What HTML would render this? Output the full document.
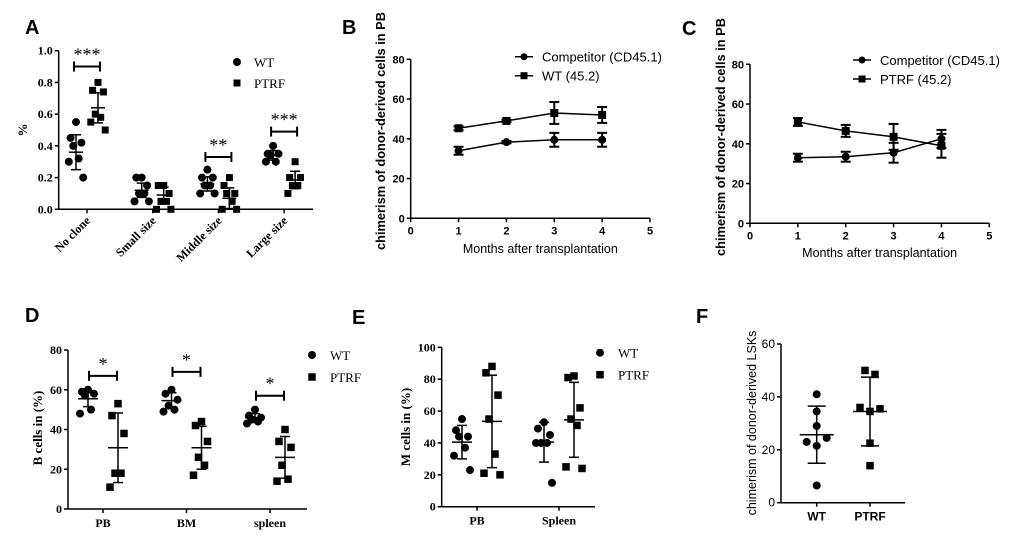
<!DOCTYPE html>
<html><head><meta charset="utf-8">
<style>
html,body{margin:0;padding:0;background:#fff;}
svg{display:block;}
.sans{font-family:"Liberation Sans",Arial,sans-serif;}
.serif{font-family:"Liberation Serif","Times New Roman",serif;}
</style></head>
<body>
<svg id="fig" width="1020" height="544" viewBox="0 0 1020 544" xmlns="http://www.w3.org/2000/svg">
<rect width="1020" height="544" fill="#fff"/>
<g class="sans" font-weight="bold" font-size="20" fill="#000">
<text x="25" y="34">A</text>
<text x="342" y="34">B</text>
<text x="682" y="35">C</text>
<text x="25" y="322">D</text>
<text x="352" y="324">E</text>
<text x="696" y="323">F</text>
</g>
</svg>
<script>
// ---------- Panel A data ----------
const aCategories = ["No clone","Small size","Middle size","Large size"];
const aYTicks = [0.0,0.2,0.4,0.6,0.8,1.0];
const aWT = [[0.55,0.45,0.42,0.40,0.32,0.30,0.20],[0.20,0.20,0.15,0.10,0.10,0.05,0.05],[0.25,0.20,0.20,0.15,0.15,0.10,0.10],[0.40,0.35,0.35,0.34,0.30,0.30]];
const aPTRF = [[0.80,0.75,0.74,0.60,0.58,0.55,0.50],[0.15,0.15,0.10,0.05,0.05,0.00,0.00],[0.20,0.15,0.10,0.10,0.05,0.00,0.00],[0.30,0.20,0.20,0.15,0.15,0.10]];
const aWTMean = [0.36,0.12,0.16,0.34];
const aWTSd = [0.11,0.045,0.045,0.03];
const aPTRFMean = [0.64,0.09,0.07,0.185];
const aPTRFSd = [0.095,0.05,0.065,0.055];
const aSigLevel = [0.90,null,0.33,0.49];
const aSigText = ["***",null,"**","***"];
// ---------- Panel B data ----------
const bMonths = [1,2,3,4];
const bXTicks = [0,1,2,3,4,5];
const bYTicks = [0,20,40,60,80];
const bComp = [34,38.3,39.5,39.5];
const bCompErr = [2,0.6,3.5,3.5];
const bWT = [45.3,49,53,52];
const bWTErr = [1,0.6,5.5,4];
// ---------- Panel C data ----------
const cMonths = [1,2,3,4];
const cComp = [33,33.5,35.5,42.5];
const cCompErr = [2,2.5,5,4.5];
const cPTRF = [51,46.5,43.5,39];
const cPTRFErr = [2,3,6.5,6];
// ---------- Panel D data ----------
const dCategories = ["PB","BM","spleen"];
const dYTicks = [0,20,40,60,80];
const dWT = [[60,59,58,57,50,48],[60,58,55,52,50,49],[50,47,46,45,44,43]];
const dPTRF = [[53,47,38,18,18,11],[44,42,34,26,22,17],[40,34,31,22,15,14]];
const dWTMean = [55.5,54.5,46];
const dWTSd = [4,4,2];
const dPTRFMean = [30.8,30.8,26];
const dPTRFSd = [17.5,10.8,10.5];
const dSigLevel = [67,69,57];
const dSigText = ["*","*","*"];
// ---------- Panel E data ----------
const eCategories = ["PB","Spleen"];
const eYTicks = [0,20,40,60,80,100];
const eWT = [[55,48,44,44,37,32,23],[53,49,45,40,40,40,15]];
const ePTRF = [[88,84,70,55,33,21,20],[82,81,62,55,51,25,24]];
const eWTMean = [40.5,40.5];
const eWTSd = [10.5,12.5];
const ePTRFMean = [53.5,54.5];
const ePTRFSd = [29,23.5];
// ---------- Panel F data ----------
const fCategories = ["WT","PTRF"];
const fYTicks = [0,20,40,60];
const fWT = [41,34.5,29,24.5,23,21.5,6.5];
const fPTRF = [50,48.5,36,35.5,34.5,22.5,14];
const fWTMean = 25.7, fWTSd = 10.8;
const fPTRFMean = 34.5, fPTRFSd = 13;

const svg = document.getElementById('fig');
const NS = 'http://www.w3.org/2000/svg';
function mk(tag, attrs, parent){
  const e = document.createElementNS(NS, tag);
  for (const k in attrs) e.setAttribute(k, attrs[k]);
  (parent||svg).appendChild(e);
  return e;
}
function lin(d0,d1,r0,r1){ return v => r0 + (v-d0)*(r1-r0)/(d1-d0); }
function line(x1,y1,x2,y2,w,p){ return mk('line',{x1,y1,x2,y2,stroke:'#000','stroke-width':w||1.5},p); }
function circ(x,y,r,p){ return mk('circle',{cx:x,cy:y,r:r,fill:'#000'},p); }
function sq(x,y,s,p){ return mk('rect',{x:x-s/2,y:y-s/2,width:s,height:s,fill:'#000'},p); }
function txt(x,y,s,attrs,p){ const t = mk('text',Object.assign({x,y},attrs),p); t.textContent = s; return t; }
const jit = [0,-6,6,-3,3,-8,8];

function yAxis(g, x, ys, ticks, fmt, font, size, weight){
  line(x, ys(ticks[0]), x, ys(ticks[ticks.length-1]), 1.5, g);
  ticks.forEach(t=>{
    line(x-4, ys(t), x, ys(t), 1.5, g);
    const l = txt(x-6, ys(t)+4, fmt(t), {'text-anchor':'end','font-size':size,'font-weight':weight,'font-family':font}, g);
    
    
  });
}
function errBar(g, x, ys, mean, sd, half, cap){
  line(x-half, ys(mean), x+half, ys(mean), 1.5, g);
  line(x, ys(mean-sd), x, ys(mean+sd), 1.5, g);
  line(x-cap, ys(mean-sd), x+cap, ys(mean-sd), 1.5, g);
  line(x-cap, ys(mean+sd), x+cap, ys(mean+sd), 1.5, g);
}
function bracket(g, x1, x2, y, ys, text, fs, font){
  line(x1, y, x2, y, 2, g);
  line(x1, y-5, x1, y+5, 2, g);
  line(x2, y-5, x2, y+5, 2, g);
  const t = txt((x1+x2)/2, y-6, text, {'text-anchor':'middle','font-size':fs,'font-family':font}, g);
  
  
}
const SERIF = '"Liberation Serif",serif', SANS='"Liberation Sans",sans-serif';

// ================= Panel A =================
(function(){
  const g = mk('g',{});
  
  
  const ys = lin(0,1,209.3,50.7);
  const xc = i => 87 + 65.7*i;
  yAxis(g, 58.7, ys, aYTicks, t=>t.toFixed(1), SERIF, 12, 'bold');
  line(58.7, ys(0), 313, ys(0), 1.5, g);
  aCategories.forEach((c,i)=>{
    line(xc(i), ys(0), xc(i), ys(0)+4, 1.5, g);
    const t = txt(0,0,c,{'font-size':12,'font-weight':'bold','font-family':SERIF,'text-anchor':'end',transform:`translate(${xc(i)+4},${ys(0)+12}) rotate(-45)`},g);
    
    
    aWT[i].forEach((v,j)=>{ const p=circ(xc(i)-11+jit[j]*0.9, ys(v), 4, g);
        });
    aPTRF[i].forEach((v,j)=>{ const p=sq(xc(i)+11+jit[j]*0.9, ys(v), 7, g);
        });
    errBar(g, xc(i)-11, ys, aWTMean[i], aWTSd[i], 7, 5);
    errBar(g, xc(i)+11, ys, aPTRFMean[i], aPTRFSd[i], 7, 5);
    if (aSigLevel[i]!==null) bracket(g, xc(i)-13, xc(i)+13, ys(aSigLevel[i]), ys, aSigText[i], 18, SERIF);
  });
  const yt = txt(0,0,'%',{'font-size':13,'font-weight':'bold','font-family':SERIF,'text-anchor':'middle',transform:'translate(27,130) rotate(-90)'},g);
   
  const l1=circ(237,62,4,g);  
  const l2=sq(237,83,7,g);  
  const t1=txt(254,67,'WT',{'font-size':13,'font-family':SERIF},g);  
  const t2=txt(254,88,'PTRF',{'font-size':13,'font-family':SERIF},g);  
})();

// ================= Line panels B & C =================
function linePanel(name, ox, y0px, y80px, x5px, months, s1, e1, s2, e2, leg2, legX, legY, titleX, titleY, xTitleY){
  const g = mk('g',{});
  
  
  const ys = lin(0,80,y0px,y80px);
  const xs = lin(0,5,ox,x5px);
  yAxis(g, ox, ys, bYTicks, t=>String(t), SANS, 11, 'bold');
  line(ox, ys(0), xs(5), ys(0), 1.5, g);
  bXTicks.forEach(t=>{
    line(xs(t), ys(0), xs(t), ys(0)+4, 1.5, g);
    const l = txt(xs(t), ys(0)+16, String(t), {'text-anchor':'middle','font-size':11,'font-weight':'bold','font-family':SANS}, g);
     
  });
  [[s1,e1,'circle','competitor'],[s2,e2,'square','donor']].forEach(([s,e,shape,nm])=>{
    const pts = months.map((m,i)=>`${xs(m)},${ys(s[i])}`).join(' ');
    const pl = mk('polyline',{points:pts,fill:'none',stroke:'#000','stroke-width':1.5},g);
     
    months.forEach((m,i)=>{
      const x = xs(m);
      line(x, ys(s[i]-e[i]), x, ys(s[i]+e[i]), 2, g);
      line(x-5, ys(s[i]-e[i]), x+5, ys(s[i]-e[i]), 2, g);
      line(x-5, ys(s[i]+e[i]), x+5, ys(s[i]+e[i]), 2, g);
      const p = shape==='circle' ? circ(x, ys(s[i]), 4, g) : sq(x, ys(s[i]), 8, g);
       
    });
  });
  line(legX, legY, legX+18, legY, 1.5, g); circ(legX+9, legY, 3.5, g);
  line(legX, legY+19, legX+18, legY+19, 1.5, g); sq(legX+9, legY+19, 7, g);
  const a = txt(legX+27, legY+5, 'Competitor (CD45.1)', {'font-size':13,'font-family':SANS}, g);
   
  const b = txt(legX+27, legY+24, leg2, {'font-size':13,'font-family':SANS}, g);
   
  const yt = txt(0,0,'chimerism of donor-derived cells in PB',{'font-size':12.5,'font-weight':'bold','font-family':SANS,'text-anchor':'middle',textLength:238,lengthAdjust:'spacingAndGlyphs',transform:`translate(${titleX},${titleY}) rotate(-90)`},g);
   
  const xt = txt((ox+x5px)/2+10, xTitleY, 'Months after transplantation', {'font-size':12.5,'font-family':SANS,'text-anchor':'middle'}, g);
   
}
linePanel('panel-b-chart', 410.7, 218.3, 59.3, 650, bMonths, bComp, bCompErr, bWT, bWTErr, 'WT (45.2)', 515, 56.7, 385, 131, 253);
linePanel('panel-c-chart', 750, 223.3, 64.3, 989.3, cMonths, cComp, cCompErr, cPTRF, cPTRFErr, 'PTRF (45.2)', 853, 60, 725, 137, 257);

// ================= Dot panels D & E =================
function dotPanel(name, ax, y0px, ymaxpx, ymax, xEnd, xc, cats, ticks, wt, ptrf, wm, wsd, pm, psd, sig, sigT, legX, legY, title, tX, tY){
  const g = mk('g',{});
  
  
  const ys = lin(0,ymax,y0px,ymaxpx);
  yAxis(g, ax, ys, ticks, t=>String(t), SERIF, 12, 'bold');
  line(ax, ys(0), xEnd, ys(0), 1.5, g);
  cats.forEach((c,i)=>{
    const x = xc(i);
    line(x, ys(0), x, ys(0)+4, 1.5, g);
    const l = txt(x, ys(0)+18, c, {'text-anchor':'middle','font-size':12,'font-weight':'bold','font-family':SERIF}, g);
     
    wt[i].forEach((v,j)=>{ const p=circ(x-15+jit[j], ys(v), 4, g);
        });
    ptrf[i].forEach((v,j)=>{ const p=sq(x+15+jit[j], ys(v), 7.5, g);
        });
    errBar(g, x-15, ys, wm[i], wsd[i], 10, 5);
    errBar(g, x+15, ys, pm[i], psd[i], 10, 5);
    if (sig && sig[i]!==null) bracket(g, x-14, x+14, ys(sig[i]), ys, sigT[i], 18, SERIF);
  });
  circ(legX, legY, 4, g); sq(legX, legY+22, 7.5, g);
  const a=txt(legX+18, legY+5, 'WT', {'font-size':13,'font-family':SERIF}, g);
   
  const b=txt(legX+18, legY+27, 'PTRF', {'font-size':13,'font-family':SERIF}, g);
   
  const yt = txt(0,0,title,{'font-size':13,'font-weight':'bold','font-family':SERIF,'text-anchor':'middle',transform:`translate(${tX},${tY}) rotate(-90)`},g);
   
}
dotPanel('panel-d-chart', 68, 509, 350, 80, 307, i=>103+83.5*i, dCategories, dYTicks, dWT, dPTRF, dWTMean, dWTSd, dPTRFMean, dPTRFSd, dSigLevel, dSigText, 312, 355, 'B cells in (%)', 42, 428);
dotPanel('panel-e-chart', 441.7, 506.7, 347.3, 100, 595, i=>477+82*i, eCategories, eYTicks, eWT, ePTRF, eWTMean, eWTSd, ePTRFMean, ePTRFSd, null, null, 600, 352.7, 'M cells in (%)', 410, 427);

// ================= Panel F =================
(function(){
  const g = mk('g',{});
  
  
  const ys = lin(0,60,502.7,344);
  const xc = i => 816.7 + 53.3*i;
  yAxis(g, 781, ys, fYTicks, t=>String(t), SANS, 12, 'normal');
  line(781, ys(0), 905, ys(0), 1.5, g);
  fCategories.forEach((c,i)=>{
    line(xc(i), ys(0), xc(i), ys(0)+4, 1.5, g);
    const l = txt(xc(i), ys(0)+18, c, {'text-anchor':'middle','font-size':12,'font-weight':'bold','font-family':SANS}, g);
     
  });
  const fj = [0,0,0,10,-10,0,0];
  fWT.forEach((v,j)=>{ const p=circ(xc(0)+fj[j], ys(v), 4, g);
      });
  const pj = [-5,5,-10,10,0,0,0];
  fPTRF.forEach((v,j)=>{ const p=sq(xc(1)+pj[j], ys(v), 7.5, g);
      });
  errBar(g, xc(0), ys, fWTMean, fWTSd, 17, 9);
  errBar(g, xc(1), ys, fPTRFMean, fPTRFSd, 17, 9);
  const yt = txt(0,0,'chimerism of donor-derived LSKs',{'font-size':12.5,'font-family':SANS,'text-anchor':'middle',transform:'translate(756,423) rotate(-90)'},g);
   
})();
</script>
</body></html>
